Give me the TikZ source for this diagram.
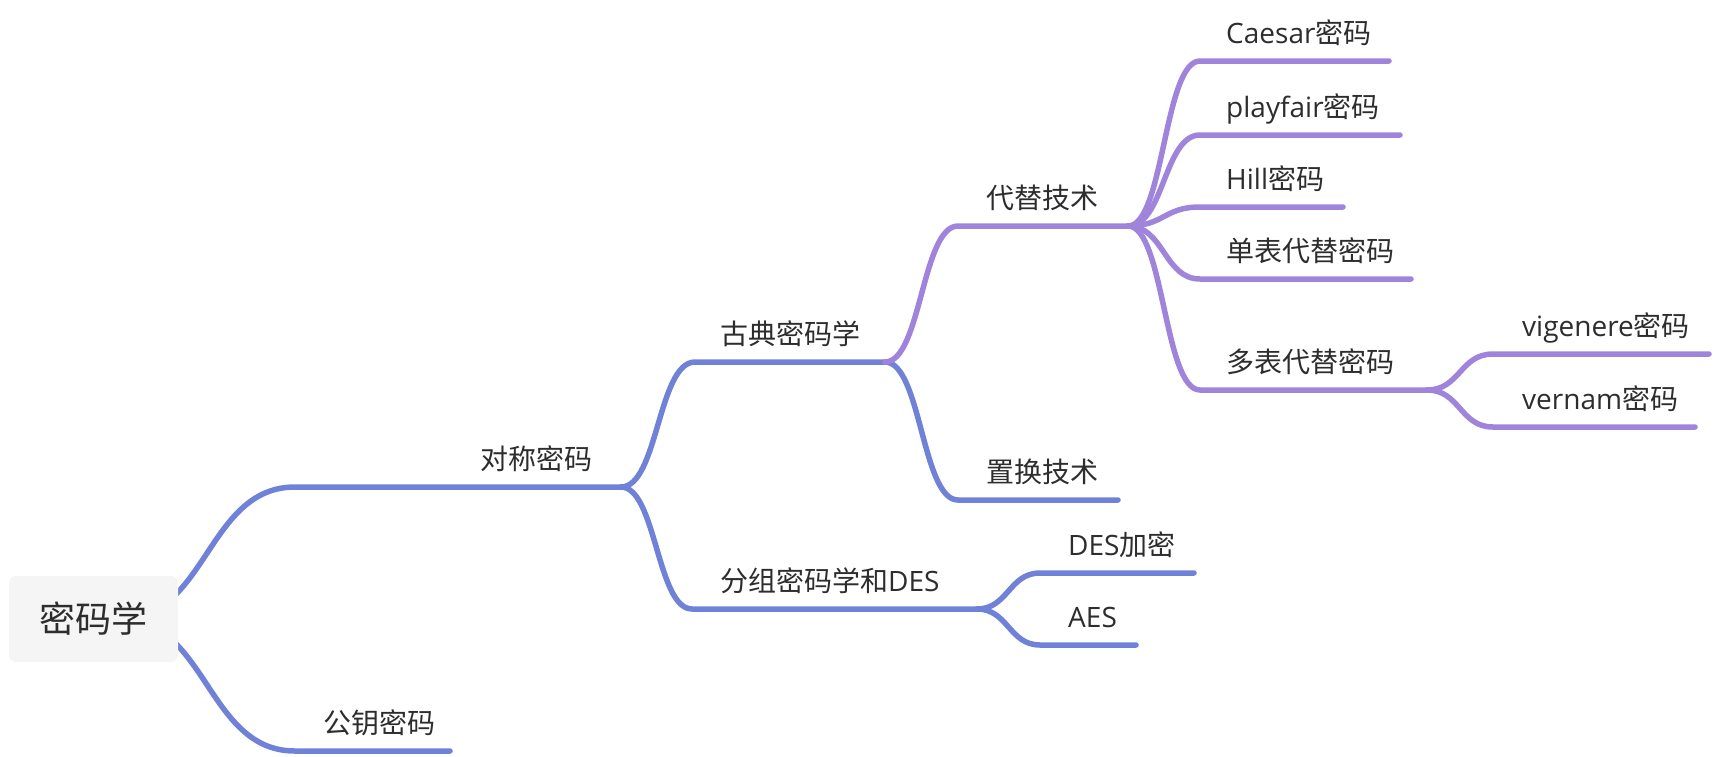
\documentclass[tikz,border=0pt]{standalone}
\usepackage{fontspec}
\setmainfont{Open Sans}
\newfontfamily\cjk{Noto Sans CJK SC}
\definecolor{bl}{RGB}{112,130,215}
\definecolor{pu}{RGB}{160,132,220}
\definecolor{tx}{RGB}{45,45,45}
\definecolor{rootfill}{RGB}{245,245,245}
\begin{document}
\begin{tikzpicture}[x=1pt,y=-1pt,
  lbl/.style={anchor=base west, inner sep=0pt, text=tx, font=\fontsize{28}{34}\selectfont},
  br/.style={line width=5.5pt, line cap=round, line join=round}]
\useasboundingbox (0,0) rectangle (1718,756);
% coordinates
\coordinate (r0) at (120,619);
\coordinate (s1) at (295,487);  \coordinate (f1) at (621,487);
\coordinate (s2) at (295,751);  \coordinate (e2) at (450,751);
\coordinate (s3) at (695,362);  \coordinate (f3) at (885,362);
\coordinate (s4) at (692,609);  \coordinate (f4) at (977,609);
\coordinate (s5) at (958,226);  \coordinate (f5) at (1128,226);
\coordinate (s6) at (958,500);  \coordinate (e6) at (1118,500);
\coordinate (s7) at (1040,573); \coordinate (e7) at (1194,573);
\coordinate (s8) at (1040,645); \coordinate (e8) at (1136,645);
\coordinate (s9) at (1200,61);  \coordinate (e9) at (1389,61);
\coordinate (s10) at (1200,135); \coordinate (e10) at (1400,135);
\coordinate (s11) at (1200,207); \coordinate (e11) at (1343,207);
\coordinate (s12) at (1200,279); \coordinate (e12) at (1411,279);
\coordinate (s13) at (1200,390); \coordinate (f13) at (1427,390);
\coordinate (s14) at (1493,354); \coordinate (e14) at (1709,354);
\coordinate (s15) at (1493,427); \coordinate (e15) at (1695,427);
% blue branches
\draw[br,bl] (r0) .. controls +(87,0) and +(-88,0) .. (s1) -- (f1);
\draw[br,bl] (r0) .. controls +(87,0) and +(-88,0) .. (s2) -- (e2);
\draw[br,bl] (f1) .. controls +(37,0) and +(-37,0) .. (s3) -- (f3);
\draw[br,bl] (f1) .. controls +(35,0) and +(-35,0) .. (s4) -- (f4);
\draw[br,bl] (f3) .. controls +(36,0) and +(-36,0) .. (s6) -- (e6);
\draw[br,bl] (f4) .. controls +(31,0) and +(-31,0) .. (s7) -- (e7);
\draw[br,bl] (f4) .. controls +(31,0) and +(-31,0) .. (s8) -- (e8);
% purple branches
\draw[br,pu] (f3) .. controls +(36,0) and +(-36,0) .. (s5) -- (f5);
\draw[br,pu] (f5) .. controls +(36,0) and +(-36,0) .. (s9) -- (e9);
\draw[br,pu] (f5) .. controls +(36,0) and +(-36,0) .. (s10) -- (e10);
\draw[br,pu] (f5) .. controls +(36,0) and +(-36,0) .. (s11) -- (e11);
\draw[br,pu] (f5) .. controls +(36,0) and +(-36,0) .. (s12) -- (e12);
\draw[br,pu] (f5) .. controls +(36,0) and +(-36,0) .. (s13) -- (f13);
\draw[br,pu] (f13) .. controls +(33,0) and +(-33,0) .. (s14) -- (e14);
\draw[br,pu] (f13) .. controls +(33,0) and +(-33,0) .. (s15) -- (e15);
% root
\node[fill=rootfill, rounded corners=7pt, minimum width=169pt, minimum height=86pt, inner sep=0pt,
  text=tx, font=\cjk\fontsize{36}{42}\selectfont] (root) at (93.5,619) {密码学};
% labels
\node[lbl] (t1) at (480,469) {\cjk 对称密码};
\node[lbl] (t2) at (323,733) {\cjk 公钥密码};
\node[lbl] (t3) at (720,344) {\cjk 古典密码学};
\node[lbl] (t4) at (720,591) {{\cjk 分组密码学和}DES};
\node[lbl] (t5) at (986,208) {\cjk 代替技术};
\node[lbl] (t6) at (986,482) {\cjk 置换技术};
\node[lbl] (t7) at (1068,555) {DES{\cjk 加密}};
\node[lbl] (t8) at (1068,627) {AES};
\node[lbl] (t9) at (1226,43) {Caesar{\cjk 密码}};
\node[lbl] (t10) at (1226,117) {playfair{\cjk 密码}};
\node[lbl] (t11) at (1226,189) {Hill{\cjk 密码}};
\node[lbl] (t12) at (1226,261) {\cjk 单表代替密码};
\node[lbl] (t13) at (1226,372) {\cjk 多表代替密码};
\node[lbl] (t14) at (1522,336) {vigenere{\cjk 密码}};
\node[lbl] (t15) at (1522,409) {vernam{\cjk 密码}};
\end{tikzpicture}
\end{document}
